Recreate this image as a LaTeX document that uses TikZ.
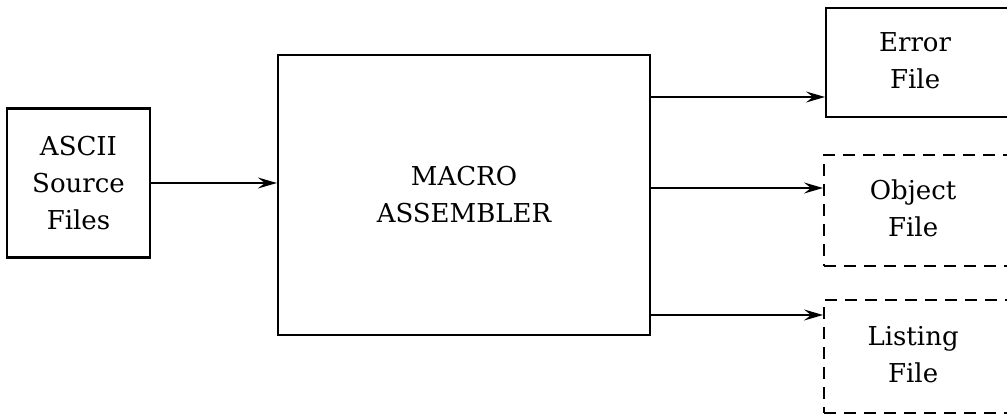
\documentclass[tikz,border=0pt]{standalone}
\usepackage{fontspec}
\setmainfont{DejaVu Serif}
\usetikzlibrary{arrows.meta}
\tikzset{
  blk/.style={draw,line width=2.2pt,align=center,inner sep=0pt,font=\fontsize{26}{37}\selectfont},
  outfile/.style={blk,anchor=west,minimum width=200pt},
  dbox/.style={dash pattern=on 12pt off 8pt},
  flow/.style={line width=2pt,-{Stealth[length=19pt,width=11pt,inset=7pt]}}
}
\newcommand{\ftxt}[1]{\begin{tabular}{@{}c@{}}#1\end{tabular}\hspace*{22pt}}

\begin{document}
\begin{tikzpicture}[x=1pt,y=-1pt]
  \useasboundingbox (0,0) rectangle (1007,417);
  \clip (0,0) rectangle (1007,417);
  \node[blk,minimum width=143pt,minimum height=149pt] (ascii) at (78.5,183) {ASCII\\Source\\Files};
  \node[blk,minimum width=372pt,minimum height=280pt] (macro) at (464,195) {MACRO\\ASSEMBLER};
  \node[outfile,minimum height=109pt] (err) at (825,62.5) {\ftxt{Error\\File}};
  \node[outfile,dbox,minimum height=111pt] (obj) at (823,210.5) {\ftxt{Object\\File}};
  \node[outfile,dbox,minimum height=113pt] (lst) at (823,356.5) {\ftxt{Listing\\File}};
  \draw[flow] (ascii.east) -- (ascii.east -| macro.west);
  \draw[flow] (macro.east |- 0,97) -- (err.west |- 0,97);
  \draw[flow] (macro.east |- 0,188) -- (obj.west |- 0,188);
  \draw[flow] (macro.east |- 0,315) -- (lst.west |- 0,315);
\end{tikzpicture}
\end{document}
